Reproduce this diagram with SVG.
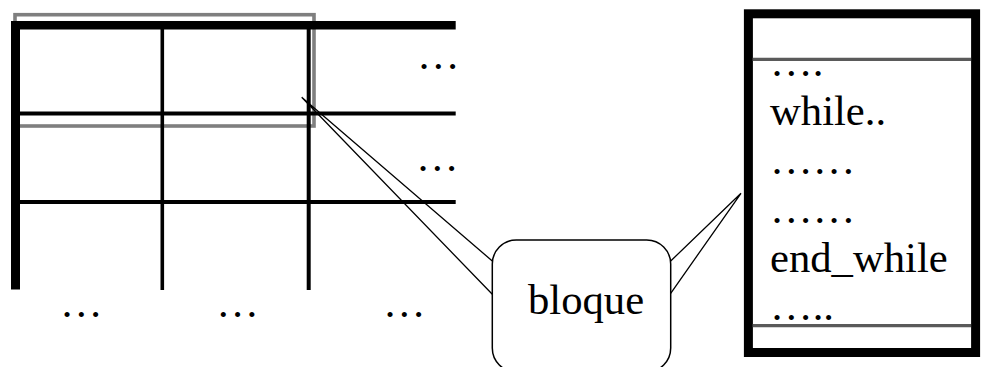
<svg xmlns="http://www.w3.org/2000/svg" width="982" height="367" viewBox="0 0 982 367">
  <style>
    .t { font-family: "Liberation Serif", "Times New Roman", serif; font-size: 42.67px; fill: #000; }
    .grid { stroke: #000; fill: none; }
    .wedge { stroke: #000; stroke-width: 1.3; fill: none; }
  </style>
  <rect width="982" height="367" fill="#fff"/>
  <g id="callout-bloque">
    <rect x="492.3" y="240" width="178.4" height="132" rx="24" ry="24" fill="#fff" stroke="#000" stroke-width="1.5"/>
    <text class="t" x="528" y="314">bloque</text>
  </g>
  <g id="table">
    <rect x="15" y="14.7" width="299" height="111.3" fill="none" stroke="#7f7f7f" stroke-width="3.6"/>
    <line class="grid" x1="11" y1="25.2" x2="455.7" y2="25.2" stroke-width="8.4"/>
    <line class="grid" x1="15.5" y1="21" x2="15.5" y2="289.5" stroke-width="9"/>
    <line class="grid" x1="162.3" y1="25" x2="162.3" y2="290" stroke-width="3.6"/>
    <line class="grid" x1="308.7" y1="25" x2="308.7" y2="290" stroke-width="4"/>
    <line class="grid" x1="20" y1="113.6" x2="455.7" y2="113.6" stroke-width="4"/>
    <line class="grid" x1="20" y1="202" x2="455.7" y2="202" stroke-width="4"/>
    <text class="t" x="417" y="69">…</text>
    <text class="t" x="416" y="171">…</text>
    <text class="t" x="60" y="316.5">…</text>
    <text class="t" x="216.3" y="316.5">…</text>
    <text class="t" x="383" y="317">…</text>
  </g>
  <g id="code-block">
    <rect x="748.4" y="13.8" width="227.2" height="338.7" fill="none" stroke="#000" stroke-width="9"/>
    <line x1="752.7" y1="59.3" x2="971" y2="59.3" stroke="#5a5a5a" stroke-width="3.2"/>
    <line x1="752.7" y1="325.7" x2="971" y2="325.7" stroke="#5a5a5a" stroke-width="3.2"/>
    <text class="t" x="770" y="76">….</text>
    <text class="t" x="770" y="125">while..</text>
    <text class="t" x="770" y="174">……</text>
    <text class="t" x="770" y="223">……</text>
    <text class="t" x="770" y="272">end_while</text>
    <text class="t" x="770" y="320">…..</text>
  </g>
  <g id="connectors">
    <polyline class="wedge" points="492.3,261 301.7,97.3 492.3,294.3"/>
    <polyline class="wedge" points="670.7,261 741,193.3 670.7,293.3"/>
  </g>
</svg>
